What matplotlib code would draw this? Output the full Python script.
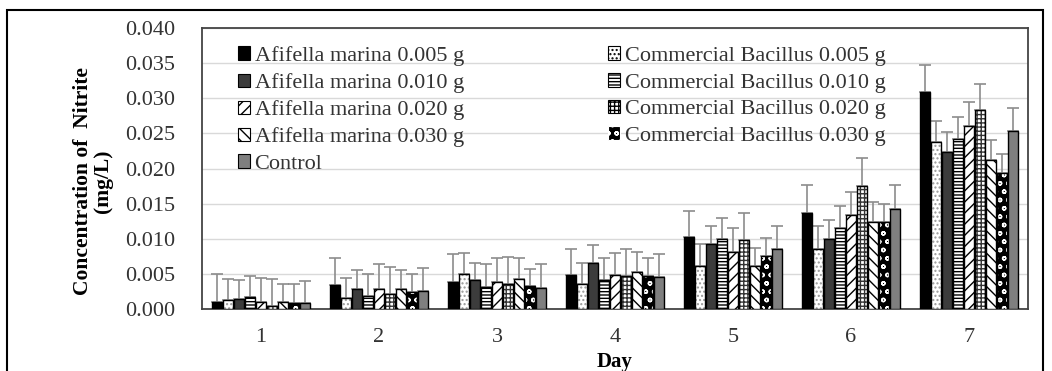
import numpy as np
import matplotlib.pyplot as plt
from matplotlib.patches import Rectangle, Patch

plt.rcParams['font.family'] = ['Liberation Serif', 'DejaVu Serif']
plt.rcParams['hatch.linewidth'] = 1.0

days = ['1', '2', '3', '4', '5', '6', '7']

# bar order inside each day group
series = ['Afifella marina 0.005 g', 'Commercial Bacillus 0.005 g',
          'Afifella marina 0.010 g', 'Commercial Bacillus 0.010 g',
          'Afifella marina 0.020 g', 'Commercial Bacillus 0.020 g',
          'Afifella marina 0.030 g', 'Commercial Bacillus 0.030 g',
          'Control']

af_005 = [0.0010, 0.0034, 0.0039, 0.0048, 0.0102, 0.0136, 0.0309]
cb_005 = [0.0013, 0.0016, 0.0050, 0.0036, 0.0061, 0.0086, 0.0238]
af_010 = [0.0014, 0.0028, 0.0041, 0.0065, 0.0092, 0.0100, 0.0224]
cb_010 = [0.0017, 0.0018, 0.0032, 0.0041, 0.0099, 0.0115, 0.0242]
af_020 = [0.0010, 0.0029, 0.0038, 0.0048, 0.0081, 0.0134, 0.0261]
cb_020 = [0.0004, 0.0021, 0.0035, 0.0047, 0.0098, 0.0175, 0.0283]
af_030 = [0.0010, 0.0029, 0.0043, 0.0053, 0.0061, 0.0124, 0.0212]
cb_030 = [0.0009, 0.0024, 0.0033, 0.0047, 0.0075, 0.0124, 0.0194]
control = [0.0008, 0.0025, 0.0030, 0.0046, 0.0086, 0.0142, 0.0253]

# upper end of each error bar
af_005_top = [0.0050, 0.0073, 0.0078, 0.0086, 0.0140, 0.0176, 0.0348]
cb_005_top = [0.0043, 0.0044, 0.0080, 0.0066, 0.0092, 0.0118, 0.0267]
af_010_top = [0.0041, 0.0055, 0.0066, 0.0091, 0.0118, 0.0126, 0.0252]
cb_010_top = [0.0047, 0.0050, 0.0064, 0.0073, 0.0129, 0.0147, 0.0274]
af_020_top = [0.0044, 0.0064, 0.0072, 0.0080, 0.0115, 0.0167, 0.0295]
cb_020_top = [0.0042, 0.0060, 0.0074, 0.0085, 0.0136, 0.0215, 0.0320]
af_030_top = [0.0036, 0.0056, 0.0072, 0.0081, 0.0087, 0.0152, 0.0240]
cb_030_top = [0.0036, 0.0050, 0.0057, 0.0073, 0.0101, 0.0150, 0.0221]
control_top = [0.0040, 0.0058, 0.0064, 0.0078, 0.0118, 0.0176, 0.0286]

values = [af_005, cb_005, af_010, cb_010, af_020, cb_020, af_030, cb_030, control]
tops = [af_005_top, cb_005_top, af_010_top, cb_010_top, af_020_top,
        cb_020_top, af_030_top, cb_030_top, control_top]

# (face, hatch, hatch colour)
styles = [('black', None, 'black'),
          ('white', '....', '#999999'),
          ('#3c3c3c', None, 'black'),
          ('white', '-----', 'black'),
          ('white', '///', 'black'),
          ('white', '++++', '#333333'),
          ('white', '\\\\\\', 'black'),
          ('black', 'oo', 'white'),
          ('#7f7f7f', None, 'black')]

fig = plt.figure(figsize=(10.52, 3.71), dpi=100)
ax = fig.add_axes([202 / 1052, 1 - 309 / 371, 826 / 1052, 281 / 371])

x = np.arange(len(days))
w = 0.093
for i, (vals, top, (fc, hatch, hc)) in enumerate(zip(values, tops, styles)):
    pos = x + (i - 4) * w
    vals = np.array(vals)
    err = np.array(top) - vals
    ax.errorbar(pos, vals, yerr=[np.zeros_like(err), err], fmt='none',
                ecolor='#8c8c8c', elinewidth=1.2, capsize=4, capthick=1.2, zorder=2)
    ax.bar(pos, vals, w * 0.92, color=fc, hatch=hatch, edgecolor=hc,
           linewidth=0, zorder=3)
    ax.bar(pos, vals, w * 0.92, fill=False, edgecolor='black',
           linewidth=1.0, zorder=4)

ax.set_xlim(-0.5, 6.5)
ax.set_ylim(0, 0.040)
ax.set_yticks(np.arange(0, 0.0401, 0.005))
ax.set_yticklabels([f'{v:.3f}' for v in np.arange(0, 0.0401, 0.005)])
ax.set_xticks(x)
ax.set_xticklabels(days)
ax.tick_params(axis='both', length=0, labelsize=16, colors='#333333')
ax.tick_params(axis='x', pad=14)
ax.tick_params(axis='y', pad=19)
ax.yaxis.grid(True, color='#d9d9d9', linewidth=1)
ax.set_axisbelow(True)
for s in ax.spines.values():
    s.set_color('#444444')
    s.set_linewidth(1.3)

ax.set_xlabel('Day', fontsize=15, fontweight='bold', labelpad=3)
fig.text(93 / 1052, 1 - 181 / 371, 'Concentration of  Nitrite\n(mg/L)',
         rotation=90, ha='center', va='center', fontsize=15.5,
         fontweight='bold', linespacing=1.05)

handles = [Patch(facecolor=fc, hatch=h,
                 edgecolor='white' if fc == 'black' and h else 'black',
                 linewidth=0.8)
           for fc, h, hc in styles]
order = [0, 2, 4, 6, 8, 1, 3, 5, 7]
ax.legend([handles[k] for k in order], [series[k] for k in order],
          ncol=2, loc='upper left', bbox_to_anchor=(0.03, 0.975),
          frameon=False, fontsize=16, handlelength=0.55, handleheight=0.55,
          handletextpad=0.2, columnspacing=6.5, labelspacing=0.32,
          borderpad=0, labelcolor='#333333')

# outer frame around the figure
fig.patches.append(Rectangle((7 / 1052, -0.05), 1036 / 1052, 1.05 - 10 / 371,
                             transform=fig.transFigure, fill=False,
                             edgecolor='black', linewidth=1.5))

fig.savefig('out.png', dpi=100)
